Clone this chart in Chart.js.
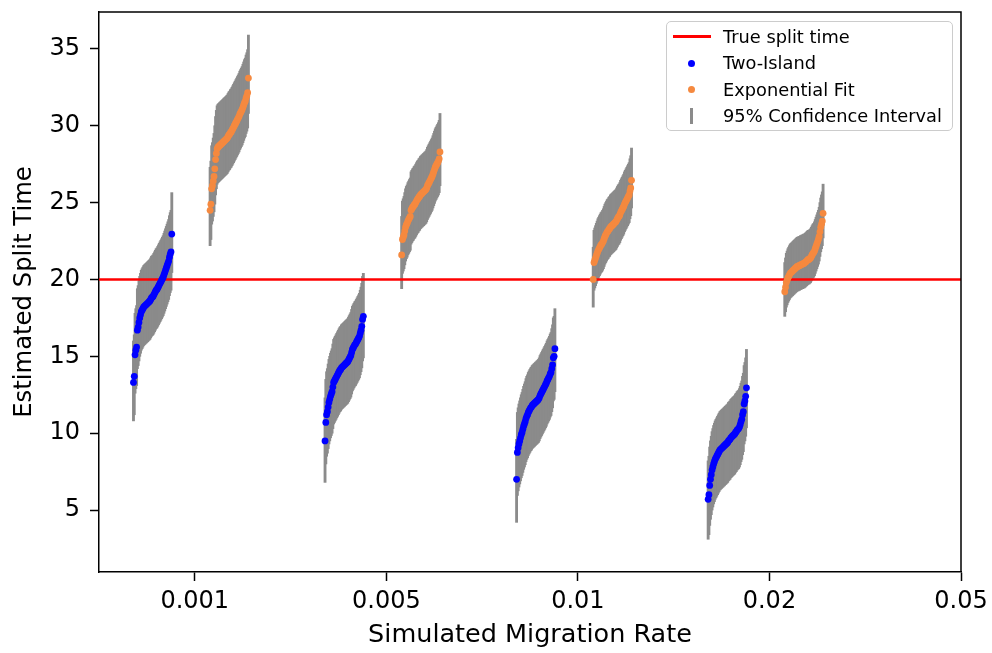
<!DOCTYPE html>
<html>
<head>
<meta charset="utf-8">
<script src="https://cdn.jsdelivr.net/npm/chart.js@4.4.1/dist/chart.umd.min.js"></script>
<style>
  html, body { margin: 0; padding: 0; background: #ffffff; }
  #wrap { position: relative; width: 992px; height: 653px; }
  #legend {
    position: absolute; left: 666px; top: 21px; width: 287px; height: 110px;
    box-sizing: border-box; border: 1.3px solid #cccccc; border-radius: 5px;
    background: rgba(255,255,255,0.85); font-family: 'DejaVu Sans', sans-serif;
    font-size: 17.8px; color: #000;
  }
  .lrow { position: absolute; left: 0; width: 100%; height: 26px; line-height: 26px; }
  .ltext { position: absolute; left: 56px; top: 0; white-space: nowrap; }
  .lsym { position: absolute; }
</style>
</head>
<body>
<div id="wrap">
  <canvas id="c" width="992" height="653"></canvas>
  <div id="legend"></div>
</div>
<script>
// ---------------- data ----------------
const rateLabels = ['0.001', '0.005', '0.01', '0.02', '0.05'];
const xTickValues = [1, 2, 3, 4, 5];
const yTickValues = [5, 10, 15, 20, 25, 30, 35];
const trueSplitTime = 20;

// Two-Island estimates (sorted), one array per simulated migration rate
const twoIsland_0001 = [13.3, 13.7, 15.1, 15.4, 15.6, 16.7, 16.9, 17.2, 17.5, 17.7,
  17.9, 18.0, 18.1, 18.2, 18.25, 18.3, 18.35, 18.4, 18.45, 18.5,
  18.55, 18.6, 18.7, 18.8, 18.85, 18.9, 19.0, 19.1, 19.2, 19.3,
  19.35, 19.45, 19.55, 19.65, 19.75, 19.85, 19.95, 20.05, 20.15, 20.3,
  20.45, 20.6, 20.75, 20.9, 21.05, 21.2, 21.45, 21.65, 21.8, 22.95];
const twoIsland_0005 = [9.5, 10.7, 11.2, 11.4, 11.7, 12.0, 12.2, 12.4, 12.55, 12.7,
  13.0, 13.3, 13.4, 13.5, 13.6, 13.7, 13.8, 13.9, 14.0, 14.1,
  14.15, 14.25, 14.3, 14.35, 14.4, 14.45, 14.5, 14.55, 14.6, 14.65,
  14.75, 14.85, 14.95, 15.05, 15.25, 15.45, 15.55, 15.65, 15.75, 15.8,
  15.9, 16.0, 16.1, 16.2, 16.3, 16.5, 16.7, 16.95, 17.4, 17.6];
const twoIsland_001 = [7.0, 8.75, 9.05, 9.3, 9.5, 9.7, 9.9, 10.05, 10.25, 10.45,
  10.6, 10.75, 10.95, 11.1, 11.2, 11.35, 11.45, 11.55, 11.65, 11.7,
  11.8, 11.85, 11.9, 11.95, 12.0, 12.05, 12.1, 12.15, 12.2, 12.3,
  12.45, 12.55, 12.65, 12.75, 12.85, 12.95, 13.05, 13.15, 13.25, 13.4,
  13.5, 13.6, 13.7, 13.85, 13.95, 14.2, 14.45, 14.9, 15.0, 15.5];
const twoIsland_002 = [5.7, 6.0, 6.6, 7.0, 7.3, 7.6, 7.8, 8.0, 8.15, 8.3,
  8.4, 8.5, 8.6, 8.7, 8.8, 8.9, 8.95, 9.0, 9.05, 9.1,
  9.15, 9.2, 9.25, 9.3, 9.35, 9.4, 9.5, 9.55, 9.6, 9.7,
  9.75, 9.8, 9.85, 9.9, 9.95, 10.05, 10.1, 10.2, 10.25, 10.3,
  10.4, 10.55, 10.75, 10.9, 11.2, 11.4, 11.9, 12.1, 12.4, 12.95];

// Exponential Fit estimates (sorted)
const expFit_0001 = [24.5, 24.9, 25.9, 26.1, 26.4, 26.7, 27.2, 27.8, 28.2, 28.5,
  28.6, 28.65, 28.7, 28.75, 28.8, 28.85, 28.9, 28.95, 29.0, 29.05,
  29.1, 29.15, 29.2, 29.3, 29.4, 29.45, 29.55, 29.6, 29.7, 29.8,
  29.9, 30.0, 30.1, 30.2, 30.3, 30.4, 30.5, 30.6, 30.75, 30.85,
  30.95, 31.05, 31.2, 31.35, 31.5, 31.6, 31.8, 31.95, 32.15, 33.1];
const expFit_0005 = [21.6, 22.6, 22.75, 22.9, 23.15, 23.4, 23.55, 23.65, 23.8, 23.9,
  24.0, 24.1, 24.5, 24.6, 24.7, 24.75, 24.85, 24.9, 25.0, 25.1,
  25.2, 25.25, 25.35, 25.4, 25.5, 25.55, 25.6, 25.65, 25.7, 25.75,
  25.8, 25.85, 25.95, 26.1, 26.2, 26.3, 26.4, 26.5, 26.6, 26.7,
  26.85, 27.0, 27.15, 27.3, 27.4, 27.5, 27.6, 27.7, 27.85, 28.3];
const expFit_001 = [20.0, 21.1, 21.25, 21.4, 21.55, 21.7, 21.85, 21.95, 22.05, 22.15,
  22.25, 22.3, 22.4, 22.5, 22.65, 22.8, 22.9, 23.0, 23.1, 23.15,
  23.25, 23.3, 23.4, 23.45, 23.5, 23.55, 23.6, 23.65, 23.7, 23.75,
  23.85, 23.95, 24.05, 24.1, 24.2, 24.35, 24.45, 24.55, 24.65, 24.75,
  24.9, 25.0, 25.1, 25.2, 25.3, 25.4, 25.5, 25.75, 25.95, 26.45];
const expFit_002 = [19.2, 19.5, 19.8, 19.95, 20.1, 20.2, 20.3, 20.4, 20.45, 20.5,
  20.55, 20.6, 20.65, 20.7, 20.75, 20.8, 20.85, 20.85, 20.9, 20.9,
  20.95, 20.95, 21.0, 21.0, 21.05, 21.05, 21.1, 21.15, 21.2, 21.25,
  21.3, 21.3, 21.35, 21.4, 21.5, 21.6, 21.7, 21.75, 21.85, 22.0,
  22.15, 22.3, 22.45, 22.6, 22.8, 23.1, 23.4, 23.6, 23.8, 24.3];

// 95% CI distance below / above each estimate, per migration rate
const ciBelowTwoIsland = [2.5, 2.7, 2.8, 2.6];
const ciAboveTwoIsland = [2.7, 2.8, 2.6, 2.5];
const ciBelowExpFit = [2.3, 2.2, 1.8, 1.6];
const ciAboveExpFit = [2.8, 2.5, 2.1, 1.9];

const twoIslandSeries = [twoIsland_0001, twoIsland_0005, twoIsland_001, twoIsland_002];
const expFitSeries = [expFit_0001, expFit_0005, expFit_001, expFit_002];

// ---------------- layout (positions within each rate slot) ----------------
const twoIslandStart = -0.32, expFitStart = 0.08, clusterWidth = 0.2;

function buildPoints(seriesList, start) {
  const pts = [];
  seriesList.forEach((vals, k) => {
    const n = vals.length;
    vals.forEach((v, j) => {
      pts.push({ x: xTickValues[k] + start + clusterWidth * j / (n - 1), y: v, k: k });
    });
  });
  return pts;
}
const twoIslandPts = buildPoints(twoIslandSeries, twoIslandStart);
const expFitPts = buildPoints(expFitSeries, expFitStart);
const ciBars = [];
twoIslandPts.forEach(p => ciBars.push({ x: p.x, y: [p.y - ciBelowTwoIsland[p.k], p.y + ciAboveTwoIsland[p.k]] }));
expFitPts.forEach(p => ciBars.push({ x: p.x, y: [p.y - ciBelowExpFit[p.k], p.y + ciAboveExpFit[p.k]] }));

const FONT = 'DejaVu Sans';
const BLUE = '#0000ff', ORANGE = '#f5893f', GRAY = '#8b8b8b', RED = '#ff0000';

const framePlugin = {
  id: 'frame',
  afterDraw(chart) {
    const { ctx, chartArea: a } = chart;
    ctx.save();
    ctx.strokeStyle = '#000';
    ctx.lineWidth = 1.5;
    ctx.beginPath();
    ctx.moveTo(a.left, a.top); ctx.lineTo(a.right, a.top); ctx.lineTo(a.right, a.bottom);
    ctx.stroke();
    ctx.restore();
  }
};

const htmlLegendPlugin = {
  id: 'htmlLegend',
  afterUpdate(chart) {
    const box = document.getElementById('legend');
    box.innerHTML = '';
    const order = [2, 0, 1, 3]; // line, two-island, exp fit, CI
    const centers = [14.5, 41, 67.5, 93.5];
    order.forEach((di, r) => {
      const ds = chart.data.datasets[di];
      const row = document.createElement('div');
      row.className = 'lrow';
      row.style.top = (centers[r] - 13) + 'px';
      const sym = document.createElement('span');
      sym.className = 'lsym';
      if (ds.type === 'line') {
        Object.assign(sym.style, { left: '6px', top: '11.7px', width: '38px', height: '2.6px', background: ds.borderColor });
      } else if (ds.type === 'scatter') {
        Object.assign(sym.style, { left: '21px', top: '9.5px', width: '7px', height: '7px', borderRadius: '50%', background: ds.backgroundColor });
      } else {
        Object.assign(sym.style, { left: '23px', top: '5px', width: '3px', height: '16px', background: ds.backgroundColor });
      }
      const txt = document.createElement('span');
      txt.className = 'ltext';
      txt.textContent = ds.label;
      row.appendChild(sym);
      row.appendChild(txt);
      box.appendChild(row);
    });
  }
};

new Chart(document.getElementById('c'), {
  data: {
    datasets: [
      { type: 'scatter', label: 'Two-Island', data: twoIslandPts, backgroundColor: BLUE, borderColor: BLUE,
        pointRadius: 3.4, pointBorderWidth: 0, order: 0 },
      { type: 'scatter', label: 'Exponential Fit', data: expFitPts, backgroundColor: ORANGE, borderColor: ORANGE,
        pointRadius: 3.4, pointBorderWidth: 0, order: 0 },
      { type: 'line', label: 'True split time', data: [{ x: 0.5, y: trueSplitTime }, { x: 5, y: trueSplitTime }],
        borderColor: RED, borderWidth: 2.6, pointRadius: 0, order: 1 },
      { type: 'bar', label: '95% Confidence Interval', data: ciBars, backgroundColor: GRAY,
        barThickness: 2.2, grouped: false, order: 2 }
    ]
  },
  options: {
    responsive: false,
    animation: false,
    events: [],
    layout: { padding: { top: 12, right: 31, left: 0, bottom: 0 } },
    plugins: { legend: { display: false }, tooltip: { enabled: false } },
    scales: {
      x: {
        type: 'linear', min: 0.5, max: 5, offset: false,
        afterBuildTicks: s => { s.ticks = xTickValues.map(v => ({ value: v })); },
        afterFit: s => { s.height = 81; s.paddingLeft = 0; s.paddingRight = 0; },
        grid: { drawOnChartArea: false, offset: false, tickLength: 9, tickColor: '#000', tickWidth: 1.5 },
        border: { color: '#000', width: 1.5 },
        ticks: { color: '#000', font: { family: FONT, size: 24 }, padding: 6, maxRotation: 0, autoSkip: false,
          callback: (v, i) => rateLabels[i] },
        title: { display: true, text: 'Simulated Migration Rate', color: '#000',
          font: { family: FONT, size: 25.5 }, padding: { top: 0, bottom: 2 } }
      },
      y: {
        type: 'linear', min: 0.97, max: 37.4,
        afterBuildTicks: s => { s.ticks = yTickValues.map(v => ({ value: v })); },
        afterFit: s => { s.width = 99; s.paddingTop = 0; s.paddingBottom = 0; },
        grid: { drawOnChartArea: false, tickLength: 9, tickColor: '#000', tickWidth: 1.5 },
        border: { color: '#000', width: 1.5 },
        ticks: { color: '#000', font: { family: FONT, size: 24 }, padding: 10, callback: v => String(v) },
        title: { display: true, text: 'Estimated Split Time', color: '#000',
          font: { family: FONT, size: 24.3 }, padding: { top: 10, bottom: 0 } }
      }
    }
  },
  plugins: [framePlugin, htmlLegendPlugin]
});
</script>
</body>
</html>
